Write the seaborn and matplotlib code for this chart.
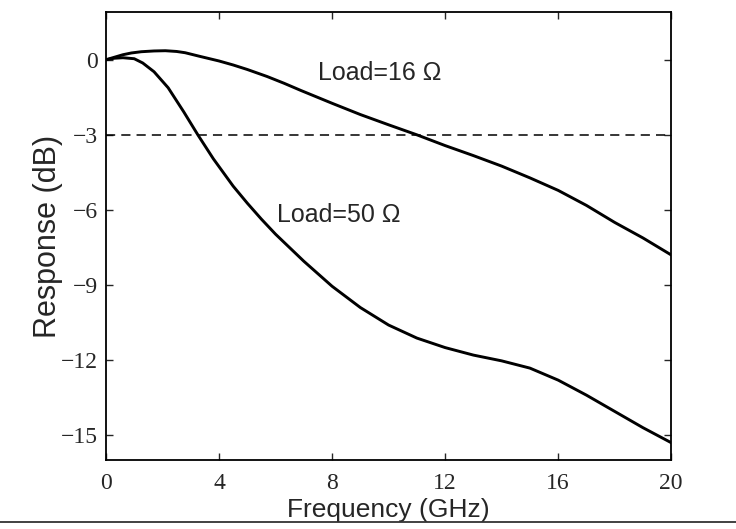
import numpy as np
import pandas as pd
import matplotlib
matplotlib.use("Agg")
import matplotlib.pyplot as plt
from matplotlib.lines import Line2D
import seaborn as sns

# Frequency response of the photodetector for two load resistances
freq_16 = [0, 0.3, 0.6, 0.9, 1.25, 1.7, 2.1, 2.5, 2.8, 3.3, 4, 4.5, 5, 5.7, 6.3, 6.9,
           8, 9, 10, 11, 12, 13, 14, 15, 16, 17, 18, 19, 20]
resp_16 = [0, 0.1, 0.2, 0.27, 0.32, 0.35, 0.36, 0.33, 0.28, 0.14, -0.05, -0.21, -0.39,
           -0.67, -0.94, -1.23, -1.74, -2.19, -2.6, -3.0, -3.43, -3.83, -4.25, -4.72,
           -5.22, -5.82, -6.5, -7.12, -7.8]

freq_50 = [0, 0.3, 0.6, 1.0, 1.3, 1.7, 2.2, 2.75, 3.25, 3.8, 4.5, 5, 5.5, 6, 7, 8, 9, 10,
           11, 12, 13, 14, 15, 16, 17, 18, 19, 20]
resp_50 = [0, 0.06, 0.08, 0.04, -0.13, -0.48, -1.12, -2.08, -3.0, -3.96, -5.05, -5.73,
           -6.37, -6.97, -8.05, -9.05, -9.9, -10.6, -11.12, -11.5, -11.8, -12.03, -12.32,
           -12.8, -13.4, -14.05, -14.7, -15.3]

x_ticks = [0, 4, 8, 12, 16, 20]
y_ticks = [0, -3, -6, -9, -12, -15]
cutoff_db = -3

df = pd.concat([
    pd.DataFrame({"freq": freq_16, "resp": resp_16, "load": "16"}),
    pd.DataFrame({"freq": freq_50, "resp": resp_50, "load": "50"}),
])

sns.set_theme(style="ticks")
plt.rcParams["font.family"] = ["Liberation Sans", "DejaVu Sans"]

fig = plt.figure(figsize=(7.36, 5.29), dpi=100)
ax = fig.add_axes([0.144, 0.130, 0.768, 0.847])

sns.lineplot(data=df, x="freq", y="resp", units="load", estimator=None,
             color="black", linewidth=2.1, ax=ax, sort=False)
ax.axhline(cutoff_db, color="black", linewidth=1.1, linestyle=(0, (6, 4)))

ax.set_xlim(0, 20)
ax.set_ylim(-16, 1.9)
ax.set_xticks(x_ticks)
ax.set_yticks(y_ticks)
ax.set_yticklabels(["0" if v == 0 else "\u2212" + str(-v) for v in y_ticks])
ax.tick_params(direction="in", top=True, right=True, length=5, width=1.0,
               labelsize=17)
ax.tick_params(axis="x", pad=9)
ax.tick_params(axis="y", pad=6)
for lab in ax.get_xticklabels() + ax.get_yticklabels():
    lab.set_fontfamily(["Liberation Serif", "DejaVu Serif"])
for s in ax.spines.values():
    s.set_linewidth(1.3)
    s.set_color("black")

ax.set_xlabel("Frequency (GHz)", fontsize=19, labelpad=3)
ax.set_ylabel("Response (dB)", fontsize=22, labelpad=-2)

ax.text(7.5, -0.55, "Load=16 \u03a9", fontsize=18, va="center", ha="left")
ax.text(6.05, -6.2, "Load=50 \u03a9", fontsize=18, va="center", ha="left")

fig.add_artist(Line2D([0.0, 1.0], [0.013, 0.013], transform=fig.transFigure,
                      color="#333333", linewidth=1.3))

fig.savefig("out.png", dpi=100)
